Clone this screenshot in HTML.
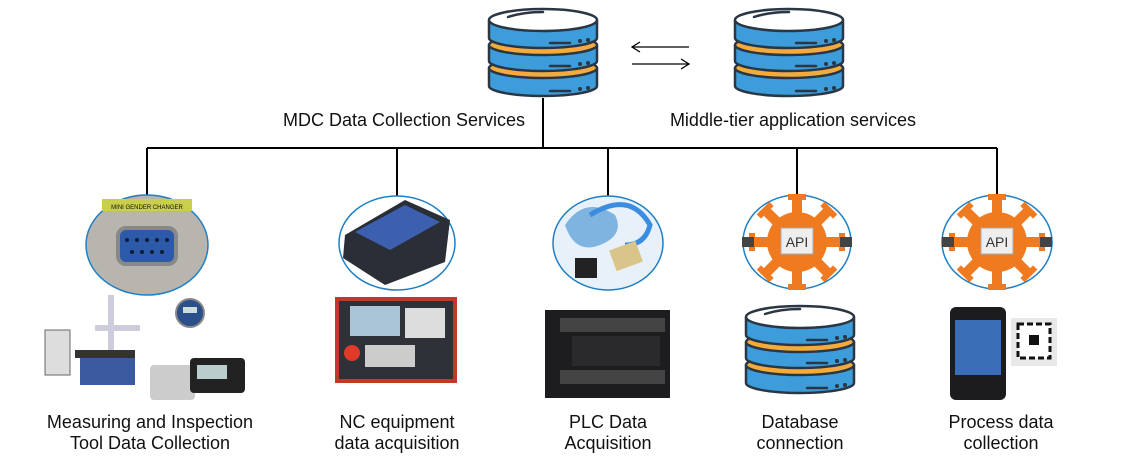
<!DOCTYPE html>
<html><head><meta charset="utf-8"><style>
html,body{margin:0;padding:0;background:#fff;}
svg{display:block}
text{font-family:"Liberation Sans",sans-serif;fill:#111;font-size:18px}
</style></head><body>
<svg width="1146" height="467" viewBox="0 0 1146 467" xmlns="http://www.w3.org/2000/svg">
<defs>
<g id="srv" stroke="#2b3645" stroke-width="2.5">
 <!-- bottom disk -->
 <path d="M1 60 v18 a54 10 0 0 0 108 0 v-18" fill="#3d9ddb"/>
 <ellipse cx="55" cy="60" rx="54" ry="10" fill="#f4ab3c"/>
 <!-- middle disk -->
 <path d="M1 37 v16 a54 10 0 0 0 108 0 v-16" fill="#3d9ddb"/>
 <ellipse cx="55" cy="37" rx="54" ry="10" fill="#f4ab3c"/>
 <!-- top disk -->
 <path d="M1 12 v18 a54 10 0 0 0 108 0 v-18" fill="#3d9ddb"/>
 <ellipse cx="55" cy="12" rx="54" ry="11" fill="#fff"/>
 <path d="M20 9 q15 -5 35 -5" fill="none" stroke-linecap="round"/>
 <g stroke-linecap="round"><line x1="62" y1="35" x2="82" y2="35"/><line x1="62" y1="58" x2="82" y2="58"/><line x1="62" y1="83" x2="82" y2="83"/></g>
 <g fill="#2b3645" stroke="none"><circle cx="92" cy="33" r="2"/><circle cx="100" cy="32" r="2"/><circle cx="92" cy="56" r="2"/><circle cx="100" cy="55" r="2"/><circle cx="92" cy="81" r="2"/><circle cx="100" cy="80" r="2"/></g>
</g>
<g id="api">
 <g fill="#f07a20">
  <circle cx="0" cy="0" r="30"/>
  <g id="sp"><rect x="-5" y="-44" width="10" height="16"/><rect x="-9" y="-48" width="18" height="6"/></g>
  <use href="#sp" transform="rotate(45)"/><use href="#sp" transform="rotate(90)"/><use href="#sp" transform="rotate(135)"/>
  <use href="#sp" transform="rotate(180)"/><use href="#sp" transform="rotate(225)"/><use href="#sp" transform="rotate(270)"/><use href="#sp" transform="rotate(315)"/>
 </g>
 <rect x="-16" y="-14" width="32" height="26" fill="#eee" stroke="#aaa"/>
 <text x="0" y="5" text-anchor="middle" style="font-size:14px;fill:#333">API</text>
 <g fill="#444"><rect x="-55" y="-5" width="12" height="10"/><rect x="43" y="-5" width="12" height="10"/></g>
</g>
</defs>

<g stroke="#000" stroke-width="2" fill="none">
 <line x1="543" y1="98" x2="543" y2="148"/>
 <line x1="147" y1="148" x2="997" y2="148"/>
 <line x1="147" y1="148" x2="147" y2="196"/>
 <line x1="397" y1="148" x2="397" y2="196"/>
 <line x1="608" y1="148" x2="608" y2="196"/>
 <line x1="797" y1="148" x2="797" y2="196"/>
 <line x1="997" y1="148" x2="997" y2="196"/>
</g>
<g stroke="#000" stroke-width="1.3" fill="none">
 <line x1="632" y1="47" x2="689" y2="47"/><polyline points="640,42 632,47 640,52"/>
 <line x1="632" y1="64" x2="689" y2="64"/><polyline points="681,59 689,64 681,69"/>
</g>

<use href="#srv" x="488" y="8"/>
<use href="#srv" x="734" y="8"/>
<text x="404" y="126" text-anchor="middle">MDC Data Collection Services</text>
<text x="793" y="126" text-anchor="middle">Middle-tier application services</text>

<ellipse cx="147" cy="245" rx="61" ry="50" fill="#b8b4ae" stroke="#1f7fc4" stroke-width="1.5"/>
<rect x="102" y="199" width="90" height="12" fill="#c9cf4a"/>
<text x="147" y="209" text-anchor="middle" style="font-size:6px">MINI GENDER CHANGER</text>
<rect x="118" y="228" width="58" height="36" rx="8" fill="#2c5aa8" stroke="#888" stroke-width="4"/>
<g fill="#0a1a3a"><circle cx="127" cy="240" r="2"/><circle cx="137" cy="240" r="2"/><circle cx="147" cy="240" r="2"/><circle cx="157" cy="240" r="2"/><circle cx="167" cy="240" r="2"/><circle cx="132" cy="252" r="2"/><circle cx="142" cy="252" r="2"/><circle cx="152" cy="252" r="2"/><circle cx="162" cy="252" r="2"/></g>
<rect x="108" y="295" width="6" height="60" fill="#ccd"/><rect x="95" y="325" width="45" height="6" fill="#ccd"/>
<rect x="80" y="355" width="55" height="30" fill="#3b5aa0"/><rect x="75" y="350" width="60" height="8" fill="#333"/>
<rect x="45" y="330" width="25" height="45" fill="#ddd" stroke="#666"/>
<circle cx="190" cy="313" r="14" fill="#2a4f8a" stroke="#888" stroke-width="2"/><rect x="183" y="307" width="14" height="6" fill="#cdd"/>
<rect x="150" y="365" width="45" height="35" fill="#ccc" rx="4"/><rect x="190" y="358" width="55" height="35" fill="#222" rx="4"/><rect x="197" y="365" width="30" height="14" fill="#bcc"/>

<ellipse cx="397" cy="243" rx="58" ry="47" fill="#fff" stroke="#1f7fc4" stroke-width="1.5"/>
<path d="M345 235 L405 200 L450 220 L445 262 L385 285 L343 258 Z" fill="#2a2e36"/>
<path d="M355 232 L405 205 L440 222 L390 250 Z" fill="#3d5fb0"/>
<rect x="335" y="297" width="122" height="86" fill="#c0392b"/>
<rect x="339" y="301" width="114" height="78" fill="#2e3138"/>
<rect x="350" y="306" width="50" height="30" fill="#a8c4d6"/>
<rect x="405" y="308" width="40" height="30" fill="#ddd"/>
<circle cx="352" cy="353" r="8" fill="#e03a2a"/>
<rect x="365" y="345" width="50" height="22" fill="#ccc"/>

<ellipse cx="608" cy="243" rx="55" ry="47" fill="#e8f1fa" stroke="#1f7fc4" stroke-width="1.5"/>
<path d="M565 225 q20 -30 50 -10 q10 20 -15 30 q-25 10 -35 -20z" fill="#7fb3e0"/>
<path d="M590 215 q40 -25 60 10 q-5 20 -25 20" stroke="#3a8de0" stroke-width="5" fill="none"/>
<rect x="575" y="258" width="22" height="20" fill="#222"/>
<rect x="612" y="245" width="28" height="22" fill="#d9c58a" transform="rotate(-20 626 256)"/>
<rect x="545" y="310" width="125" height="88" fill="#1d1d1f"/>
<rect x="560" y="318" width="105" height="14" fill="#444"/>
<rect x="560" y="370" width="105" height="14" fill="#444"/>
<rect x="572" y="336" width="88" height="30" fill="#2a2a2c"/>

<ellipse cx="797" cy="242" rx="54" ry="47" fill="#fff" stroke="#1f7fc4" stroke-width="1.5"/>
<use href="#api" x="797" y="242"/>
<ellipse cx="997" cy="242" rx="55" ry="47" fill="#fff" stroke="#1f7fc4" stroke-width="1.5"/>
<use href="#api" x="997" y="242"/>

<use href="#srv" x="745" y="305"/>

<rect x="950" y="307" width="56" height="93" rx="6" fill="#1c1c1e"/>
<rect x="955" y="320" width="46" height="55" fill="#3a6fb8"/>
<rect x="1011" y="318" width="46" height="48" fill="#e8e8e8"/>
<rect x="1018" y="324" width="32" height="34" fill="#fff" stroke="#111" stroke-width="3" stroke-dasharray="6 3"/>
<rect x="1029" y="335" width="10" height="10" fill="#111"/>

<g text-anchor="middle">
 <text x="150" y="428">Measuring and Inspection</text>
 <text x="150" y="449">Tool Data Collection</text>
 <text x="397" y="428">NC equipment</text>
 <text x="397" y="449">data acquisition</text>
 <text x="608" y="428">PLC Data</text>
 <text x="608" y="449">Acquisition</text>
 <text x="800" y="428">Database</text>
 <text x="800" y="449">connection</text>
 <text x="1001" y="428">Process data</text>
 <text x="1001" y="449">collection</text>
</g>
</svg>
</body></html>
